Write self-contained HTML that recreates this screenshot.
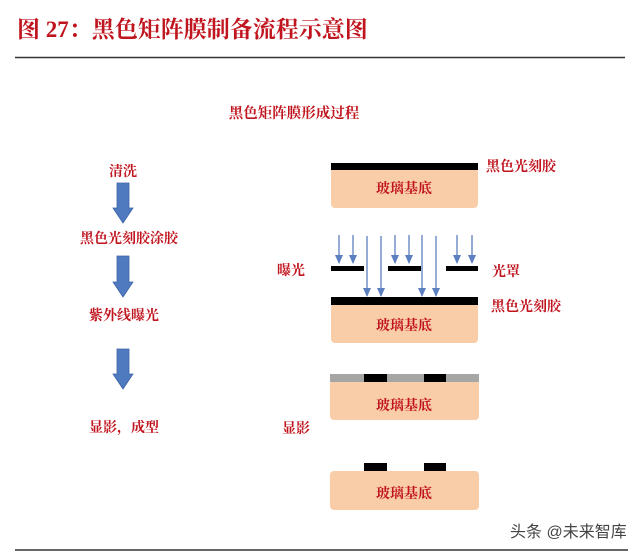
<!DOCTYPE html>
<html><head><meta charset="utf-8"><style>
body{margin:0;background:#fff}
svg text{font-family:"Liberation Serif","Noto Serif CJK SC","Noto Sans CJK SC",serif;font-weight:bold;fill:#c0141e}
</style></head><body>
<svg width="640" height="552" viewBox="0 0 640 552" xmlns="http://www.w3.org/2000/svg">
<defs>
<marker id="ah" markerWidth="9" markerHeight="8" refX="8" refY="4" orient="auto" markerUnits="userSpaceOnUse">
<path d="M0,0 L9,4 L0,8 Z" fill="#5b7fbf"/>
</marker>
</defs>
<text x="17" y="37" font-size="23" fill="#b5121b">图  27：黑色矩阵膜制备流程示意图</text>
<line x1="15" y1="57.5" x2="625" y2="57.5" stroke="#333" stroke-width="1.5"/>
<text x="294" y="118" font-size="14.5" text-anchor="middle">黑色矩阵膜形成过程</text>

<g font-size="14" text-anchor="middle">
<text x="123" y="176">清洗</text>
<text x="129" y="243">黑色光刻胶涂胶</text>
<text x="124" y="320">紫外线曝光</text>
<text x="124" y="432">显影，成型</text>
</g>
<g fill="#4f7ac0" stroke="#3d64a6" stroke-width="0.8">
<path d="M117,183 H129 V208 H133 L123,223 L113,208 H117 Z"/>
<path d="M117,256 H129 V282 H133 L123,297 L113,282 H117 Z"/>
<path d="M117,349 H129 V374 H133 L123,389 L113,374 H117 Z"/>
</g>

<rect x="331" y="168" width="147" height="40" rx="4" fill="#f9cda8"/>
<rect x="331" y="163" width="147" height="7" fill="#000"/>
<text x="404" y="193" font-size="14" text-anchor="middle">玻璃基底</text>
<text x="486" y="171" font-size="14">黑色光刻胶</text>

<g stroke="#5b7fbf" stroke-width="1.3" marker-end="url(#ah)">
<line x1="339" y1="235" x2="339" y2="263"/>
<line x1="353" y1="235" x2="353" y2="263"/>
<line x1="395" y1="235" x2="395" y2="263"/>
<line x1="409" y1="235" x2="409" y2="263"/>
<line x1="457" y1="235" x2="457" y2="263"/>
<line x1="472" y1="235" x2="472" y2="263"/>
<line x1="367" y1="236" x2="367" y2="296"/>
<line x1="381" y1="236" x2="381" y2="296"/>
<line x1="422" y1="235" x2="422" y2="296"/>
<line x1="436" y1="236" x2="436" y2="296"/>
</g>
<rect x="331" y="266" width="33" height="5" fill="#000"/>
<rect x="388" y="266" width="33" height="5" fill="#000"/>
<rect x="446" y="266" width="32" height="5" fill="#000"/>
<text x="277" y="275" font-size="14">曝光</text>
<text x="492" y="276" font-size="14">光罩</text>
<rect x="331" y="303" width="147" height="40" rx="4" fill="#f9cda8"/>
<rect x="331" y="297" width="147" height="8" fill="#000"/>
<text x="404" y="330" font-size="14" text-anchor="middle">玻璃基底</text>
<text x="491" y="311" font-size="14">黑色光刻胶</text>

<rect x="330" y="380" width="149" height="40" rx="4" fill="#f9cda8"/>
<rect x="330" y="374" width="149" height="8" fill="#a6a6a6"/>
<rect x="364" y="374" width="23" height="8" fill="#000"/>
<rect x="424" y="374" width="22" height="8" fill="#000"/>
<text x="404" y="410" font-size="14" text-anchor="middle">玻璃基底</text>
<text x="282" y="433" font-size="14">显影</text>

<rect x="330" y="471" width="149" height="39" rx="4" fill="#f9cda8"/>
<rect x="364" y="463" width="23" height="8" fill="#000"/>
<rect x="424" y="463" width="22" height="8" fill="#000"/>
<text x="404" y="498" font-size="14" text-anchor="middle">玻璃基底</text>

<text x="510" y="537" font-size="16" style="fill:#444;font-weight:normal;font-family:'Liberation Sans','Noto Sans CJK SC',sans-serif">头条 @未来智库</text>
<line x1="15" y1="550" x2="628" y2="550" stroke="#333" stroke-width="1.5"/>
</svg>
</body></html>
